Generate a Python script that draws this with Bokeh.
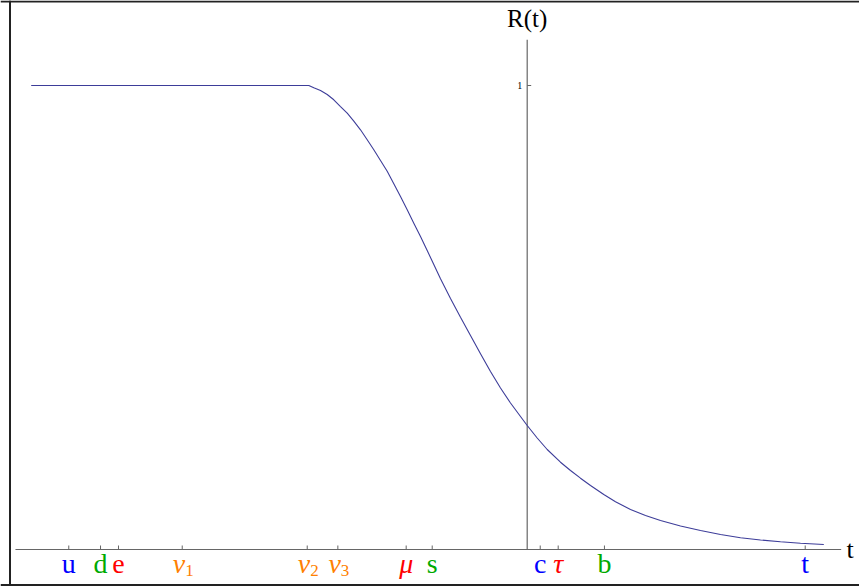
from bokeh.plotting import figure
from bokeh.models import Range1d, Span, ColumnDataSource
from bokeh.core.properties import value
from bokeh.embed import file_html
from bokeh.resources import INLINE

# Particle mass positions, x = log10(m / GeV)
tick_names = ["u", "d", "e", "ν", "ν", "ν", "μ", "s", "c", "τ", "b", "t"]
tick_subs = ["", "", "", "1", "2", "3", "", "", "", "", "", ""]
tick_x = [-3.697, -3.441, -3.296, -2.782, -1.774, -1.527, -0.976, -0.766, 0.105, 0.250, 0.623, 2.242]
tick_colors = ["#0000FF", "#00AA00", "#FF0000", "#FF8000", "#FF8000", "#FF8000",
               "#FF0000", "#00AA00", "#0000FF", "#FF0000", "#00AA00", "#0000FF"]
tick_italic = [False, False, False, True, True, True, True, False, False, True, False, False]

# Curve R(t) (pixel readings -> data)
curve_px = [30.7, 308.3, 313.3, 320.0, 326.7, 333.3, 340.0, 346.7, 353.3, 360.0, 366.7, 373.3,
            380.0, 386.7, 393.3, 400.0, 406.7, 413.3, 420.0, 426.7, 433.3, 440.0, 450.0, 460.0,
            470.0, 480.0, 490.0, 500.0, 510.0, 520.0, 526.7, 536.7, 546.7, 560.0, 570.0, 580.0,
            590.0, 603.3, 615.0, 630.0, 645.0, 660.0, 680.0, 700.0, 720.0, 740.0, 760.0, 780.0,
            800.0, 823.3]
curve_py = [85.0, 85.0, 87.3, 90.0, 94.0, 99.3, 106.0, 112.7, 120.7, 129.3, 139.3, 149.3,
            160.0, 170.7, 183.3, 196.0, 209.3, 222.7, 236.0, 250.0, 264.0, 278.3, 298.0, 316.7,
            335.0, 353.3, 371.0, 387.5, 402.5, 416.0, 425.0, 437.5, 449.0, 461.7, 470.0, 477.7,
            485.0, 494.0, 501.3, 509.0, 515.0, 520.0, 525.5, 530.0, 534.0, 537.3, 539.5, 541.3,
            542.8, 544.0]

y_ticks = [1]
x_axis_span = [-4.127, 2.532]
y_axis_span = [0, 1.0985]

W, H = 859, 586
px_per_x = 124.0
px_per_y = 464.0
x0_px, y0_px = 526.7, 549.0


def xd(px):
    return (px - x0_px) / px_per_x


def yd(py):
    return (y0_px - py) / px_per_y


curve_x = [round(xd(v), 4) for v in curve_px]
curve_r = [round(yd(v), 4) for v in curve_py]

p = figure(width=W, height=H, output_backend="svg", toolbar_location=None,
           x_range=Range1d(xd(0), xd(W)), y_range=Range1d(yd(H), yd(0)),
           x_axis_type=None, y_axis_type=None,
           min_border_left=0, min_border_right=0, min_border_top=0, min_border_bottom=0)
p.grid.visible = False
p.outline_line_color = None
p.background_fill_color = "white"
p.border_fill_color = "white"

# image frame (left, top, bottom borders)
for loc, dim in ((xd(9.5), "height"), (yd(1), "width"), (yd(584.5), "width")):
    p.add_layout(Span(location=loc, dimension=dim, line_color="#222222", line_width=2))

axis_color = "#666666"
p.segment(x0=[x_axis_span[0]], y0=[0], x1=[x_axis_span[1]], y1=[0], line_color=axis_color, line_width=1.2)
p.segment(x0=[0], y0=[y_axis_span[0]], x1=[0], y1=[y_axis_span[1]], line_color=axis_color, line_width=1.2)

tick_len_y = 4 / px_per_y
tick_len_x = 4 / px_per_x
p.segment(x0=tick_x, y0=[0] * len(tick_x), x1=tick_x, y1=[tick_len_y] * len(tick_x),
          line_color=axis_color, line_width=1)
p.segment(x0=[0] * len(y_ticks), y0=y_ticks, x1=[tick_len_x] * len(y_ticks), y1=y_ticks,
          line_color=axis_color, line_width=1)
p.text(x=[-5 / px_per_x] * len(y_ticks), y=y_ticks, text=[str(v) for v in y_ticks],
       text_font=value("Liberation Serif"), text_font_size="10px", text_align="right",
       text_baseline="middle", text_color="black")

# curve
p.line(curve_x, curve_r, line_color="#3D3D99", line_width=1.1)

# tick labels
lab_y = yd(563)
sub_y = yd(570)
sub_dx = 3 / px_per_x
for italic in (False, True):
    idx = [i for i in range(len(tick_names)) if tick_italic[i] == italic]
    plain = [i for i in idx if not tick_subs[i]]
    subbed = [i for i in idx if tick_subs[i]]
    style = "italic" if italic else "normal"
    if plain:
        src = ColumnDataSource(dict(x=[tick_x[i] for i in plain], y=[lab_y] * len(plain),
                                    t=[tick_names[i] for i in plain],
                                    c=[tick_colors[i] for i in plain]))
        p.text(x="x", y="y", text="t", text_color="c", source=src,
               text_font=value("Liberation Serif"), text_font_size="28px",
               text_font_style=style, text_align="center", text_baseline="middle")
    if subbed:
        src = ColumnDataSource(dict(x=[tick_x[i] + sub_dx for i in subbed], y=[lab_y] * len(subbed),
                                    ys=[sub_y] * len(subbed),
                                    t=[tick_names[i] for i in subbed],
                                    s=[tick_subs[i] for i in subbed],
                                    c=[tick_colors[i] for i in subbed]))
        p.text(x="x", y="y", text="t", text_color="c", source=src,
               text_font=value("Liberation Serif"), text_font_size="28px",
               text_font_style=style, text_align="right", text_baseline="middle")
        p.text(x="x", y="ys", text="s", text_color="c", source=src,
               text_font=value("Liberation Serif"), text_font_size="17px",
               text_font_style="normal", text_align="left", text_baseline="middle")

# axis labels
p.text(x=[0], y=[yd(18)], text=["R(t)"], text_font=value("Liberation Serif"),
       text_font_size="25px", text_align="center", text_baseline="middle", text_color="black")
p.text(x=[xd(846)], y=[0], text=["t"], text_font=value("Liberation Serif"),
       text_font_size="26px", text_align="left", text_baseline="middle", text_color="black")

open("out.html", "w").write(file_html(p, INLINE))
